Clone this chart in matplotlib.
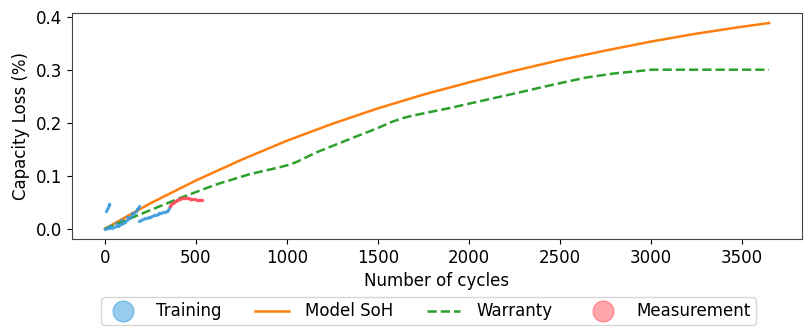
import numpy as np
import matplotlib.pyplot as plt
from matplotlib.lines import Line2D

# training data (cycles, capacity loss %)
train_x = [8, 12, 16, 20, 24,
           0, 10, 20, 30, 40, 50, 60, 70, 80, 90, 100, 110, 120, 130, 140, 150, 160, 170, 180, 185,
           30, 60, 90, 120, 150, 175,
           190, 200, 210, 220, 230, 240, 250, 260, 270, 280, 290, 300, 310, 320, 330, 340, 348, 354, 358]
train_y = [0.034, 0.038, 0.041, 0.044, 0.047,
           0.000, 0.002, 0.001, 0.003, 0.002, 0.004, 0.005, 0.005, 0.007, 0.009, 0.011, 0.013, 0.017,
           0.020, 0.023, 0.026, 0.030, 0.034, 0.039, 0.043,
           0.006, 0.011, 0.016, 0.022, 0.029, 0.038,
           0.015, 0.017, 0.018, 0.020, 0.021, 0.022, 0.023, 0.024, 0.025, 0.026, 0.028, 0.029, 0.030,
           0.031, 0.032, 0.034, 0.036, 0.040, 0.043]

# measurement
meas_x = [358, 365, 372, 380, 388, 396, 405, 415, 425, 435, 445, 455, 465, 475, 485, 495, 505, 515, 525, 535]
meas_y = [0.043, 0.046, 0.049, 0.051, 0.053, 0.055, 0.056, 0.057, 0.058, 0.058, 0.058, 0.058, 0.057,
          0.056, 0.056, 0.056, 0.055, 0.055, 0.055, 0.055]

# model SoH
model_x = [0, 250, 500, 750, 1000, 1250, 1500, 1750, 2000, 2250, 2500, 2750, 3000, 3250, 3500, 3650]
model_y = [0, 0.048, 0.091, 0.130, 0.166, 0.198, 0.227, 0.253, 0.276, 0.298, 0.318, 0.336, 0.353,
           0.368, 0.381, 0.388]

# warranty
warr_x = [0, 413, 616, 796, 960, 1016, 1060, 1162, 1344, 1500, 1580, 1640, 1700, 1784, 1900, 2002,
          2276, 2440, 2641, 2800, 2951, 3000, 3650]
warr_y = [0, 0.058, 0.084, 0.103, 0.116, 0.121, 0.127, 0.144, 0.169, 0.190, 0.202, 0.209, 0.214,
          0.220, 0.228, 0.236, 0.257, 0.270, 0.285, 0.293, 0.298, 0.300, 0.300]

c_train = '#3498db'
c_meas = '#ff4d5a'

fig = plt.figure(figsize=(8.1, 3.27), dpi=100)
ax = fig.add_axes([0.0885, 0.269, 0.902, 0.692])

ax.plot(model_x, model_y, '-', color='tab:orange', lw=1.8)
ax.plot(warr_x, warr_y, '--', color='tab:green', lw=1.8)
ax.plot(train_x, train_y, 'o', color=c_train, ms=2.5, alpha=0.8, mec='none')
ax.plot(meas_x, meas_y, 'o', color=c_meas, ms=2.5, alpha=0.9, mec='none')

ax.set_xlabel('Number of cycles', fontsize=12)
ax.set_ylabel('Capacity Loss (%)', fontsize=12)
ax.tick_params(labelsize=12)
ax.set_yticks([0.0, 0.1, 0.2, 0.3, 0.4])
for s in ax.spines.values():
    s.set_color('#444444')

handles = [
    Line2D([], [], marker='o', ls='none', color=c_train, alpha=0.5, ms=15, mec=c_train),
    Line2D([], [], color='tab:orange', lw=1.8),
    Line2D([], [], color='tab:green', lw=1.8, ls='--'),
    Line2D([], [], marker='o', ls='none', color=c_meas, alpha=0.5, ms=15, mec=c_meas),
]
fig.legend(handles, ['Training', 'Model SoH', 'Warranty', 'Measurement'],
           loc='upper center', bbox_to_anchor=(428.5 / 810, 1 - 289 / 327),
           ncol=4, fontsize=12, borderpad=0.3, handletextpad=1.0, columnspacing=2.0)

fig.savefig('out.png', dpi=100)
